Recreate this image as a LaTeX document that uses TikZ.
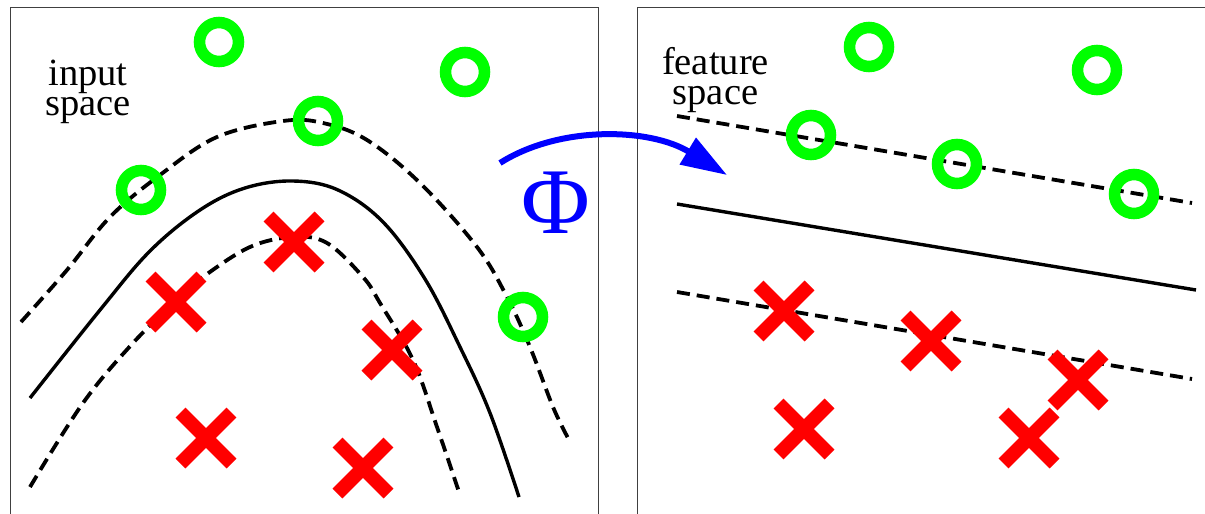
\documentclass[tikz,border=0pt]{standalone}
\usepackage{fontspec}
\setmainfont{Liberation Serif}
\usetikzlibrary{arrows.meta,shapes.misc}
\definecolor{ringgreen}{RGB}{0,255,0}
\definecolor{xred}{RGB}{255,0,0}
\definecolor{phiblue}{RGB}{0,0,255}
\begin{document}
\begin{tikzpicture}[x=1pt,y=-1pt,
  ring/.style={circle,draw=ringgreen,line width=11.5pt,minimum size=39pt,inner sep=0pt},
  xmark/.style={cross out,draw=xred,line width=14pt,minimum size=37pt,inner sep=0pt},
  frameline/.style={draw=black!75,line width=1pt},
  marginline/.style={draw=black,line width=3.8pt,dash pattern=on 13pt off 7pt},
  boundary/.style={draw=black,line width=3.4pt},
  spacelabel/.style={font=\fontsize{38.5}{30}\selectfont,align=center,inner sep=0pt,anchor=base},
  mapping/.style={draw=phiblue,line width=6pt,-{Triangle[length=46pt,width=30pt]}}
]
\useasboundingbox (0,0) rectangle (1205,514);
% frames
\draw[frameline] (10,514) -- (10,7.5) -- (598,7.5) -- (598,514);
\draw[frameline] (637,514) -- (637,7.5) -- (1205,7.5);
% labels
\node[spacelabel] (inlab) at (88,115.5) {input\\space};
\node[spacelabel] (featlab) at (715.5,104) {feature\\space};
% left curves
\draw[marginline] plot[smooth,tension=0.6] coordinates {(21,322) (67,270) (110,217) (160,175) (217,137) (283,121) (323,123) (367,140) (420,183) (477,247) (507,297) (530,347) (553,407) (568,438)};
\draw[boundary] plot[smooth,tension=0.6] coordinates {(30,398) (100,310) (150,251) (200,210) (245,188) (293,181) (338,190) (383,222) (425,279) (460,347) (490,413) (519,497)};
\draw[marginline] plot[smooth,tension=0.6] coordinates {(30,487) (83,403) (133,343) (177,300) (203,277) (250,247) (293,237) (327,243) (363,277) (380,303) (413,360) (437,427) (460,495)};
% right lines
\coordinate (ua) at (677,116); \coordinate (ub) at (1192,203);
\coordinate (sa) at (677,204); \coordinate (sb) at (1196,290);
\coordinate (la) at (677,292); \coordinate (lb) at (1192,379);
\draw[marginline] (ua) -- (ub);
\draw[boundary] (sa) -- (sb);
\draw[marginline] (la) -- (lb);
% left points
\node[ring] (c1) at (219,42) {};
\node[ring] (c2) at (465,72) {};
\node[ring] (c3) at (318,121) {};
\node[ring] (c4) at (141,190) {};
\node[ring] (c5) at (523,317) {};
\node[xmark] (x1) at (294,242) {};
\node[xmark] (x2) at (176,302) {};
\node[xmark] (x3) at (392,350) {};
\node[xmark] (x4) at (206,438) {};
\node[xmark] (x5) at (363,468) {};
% right points
\node[ring] (d1) at (869,47) {};
\node[ring] (d2) at (1097,70) {};
\node[ring] (d3) at (811,135) {};
\node[ring] (d4) at (957,164) {};
\node[ring] (d5) at (1134,194) {};
\node[xmark] (y1) at (784,311) {};
\node[xmark] (y2) at (931,341) {};
\node[xmark] (y3) at (1078,380) {};
\node[xmark] (y4) at (804,429) {};
\node[xmark] (y5) at (1029,438) {};
% mapping arrow
\coordinate (phistart) at (500,163);
\coordinate (phiend) at (727,175);
\draw[mapping] (phistart) .. controls (560,125) and (650,128) .. (phiend);
\node[font=\fontsize{94}{94}\selectfont,text=phiblue,inner sep=0pt,anchor=base] (phi) at (556,233) {Φ};
\end{tikzpicture}
\end{document}
